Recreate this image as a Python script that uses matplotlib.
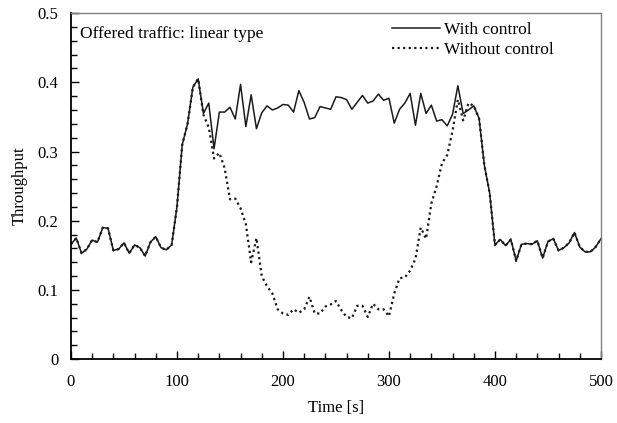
import numpy as np
import matplotlib
matplotlib.use('Agg')
import matplotlib.pyplot as plt
from matplotlib.ticker import MultipleLocator

plt.rcParams['font.family'] = ['Liberation Serif', 'DejaVu Serif']

# time axis, one sample every 5 s
time_s = np.arange(0, 505, 5)

# with control
with_control = [
    0.166, 0.175, 0.153, 0.159, 0.172, 0.169, 0.190, 0.189, 0.157, 0.159,
    0.168, 0.153, 0.165, 0.161, 0.149, 0.169, 0.177, 0.161, 0.158, 0.165,
    0.220, 0.310, 0.340, 0.393, 0.405, 0.355, 0.370, 0.304, 0.357, 0.357,
    0.364, 0.347, 0.397, 0.336, 0.382, 0.333, 0.356, 0.366, 0.360, 0.363,
    0.368, 0.367, 0.357, 0.388, 0.371, 0.347, 0.349, 0.365, 0.363, 0.361,
    0.379, 0.378, 0.375, 0.361, 0.371, 0.381, 0.370, 0.373, 0.383, 0.374,
    0.377, 0.341, 0.361, 0.370, 0.384, 0.338, 0.384, 0.355, 0.367, 0.344,
    0.346, 0.337, 0.354, 0.395, 0.355, 0.360, 0.366, 0.348, 0.280, 0.240,
    0.165, 0.173, 0.164, 0.173, 0.142, 0.166, 0.167, 0.166, 0.171, 0.146,
    0.170, 0.174, 0.157, 0.161, 0.168, 0.183, 0.162, 0.155, 0.155, 0.162,
    0.174,
]

# without control
without_control = [
    0.166, 0.175, 0.153, 0.159, 0.172, 0.169, 0.190, 0.189, 0.157, 0.159,
    0.168, 0.153, 0.165, 0.161, 0.149, 0.169, 0.177, 0.161, 0.158, 0.165,
    0.220, 0.310, 0.340, 0.393, 0.405, 0.353, 0.335, 0.290, 0.298, 0.276,
    0.231, 0.232, 0.218, 0.195, 0.140, 0.175, 0.120, 0.105, 0.095, 0.072,
    0.066, 0.064, 0.072, 0.067, 0.072, 0.090, 0.066, 0.066, 0.076, 0.079,
    0.084, 0.071, 0.061, 0.059, 0.077, 0.077, 0.061, 0.080, 0.072, 0.072,
    0.062, 0.095, 0.117, 0.118, 0.128, 0.145, 0.190, 0.174, 0.225, 0.250,
    0.283, 0.295, 0.330, 0.375, 0.345, 0.370, 0.366, 0.348, 0.280, 0.240,
    0.165, 0.173, 0.164, 0.173, 0.142, 0.166, 0.167, 0.166, 0.171, 0.146,
    0.170, 0.174, 0.157, 0.161, 0.168, 0.183, 0.162, 0.155, 0.155, 0.162,
    0.174,
]

fig = plt.figure(figsize=(6.17, 4.23), dpi=100)
ax = fig.add_axes([0.115, 0.151, 0.859, 0.818])

ax.plot(time_s, with_control, color='#1a1a1a', lw=1.1, label='With control')
ax.plot(time_s, without_control, color='#1a1a1a', lw=1.6, ls=(0, (1, 1.5)),
        label='Without control')

ax.set_xlim(0, 500)
ax.set_ylim(0, 0.5)
ax.xaxis.set_major_locator(MultipleLocator(100))
ax.xaxis.set_minor_locator(MultipleLocator(20))
ax.yaxis.set_minor_locator(MultipleLocator(0.02))
ax.set_yticks([0, 0.1, 0.2, 0.3, 0.4, 0.5])
ax.set_yticklabels(['0', '0.1', '0.2', '0.3', '0.4', '0.5'])

ax.tick_params(which='both', direction='in', top=False, right=False,
               labelsize=12)
ax.tick_params(axis='x', pad=11)
ax.tick_params(axis='y', pad=9)
ax.tick_params(which='major', length=6, width=1)
ax.tick_params(which='minor', length=4, width=1)

for s in ['left', 'bottom']:
    ax.spines[s].set_linewidth(1.3)
    ax.spines[s].set_color('black')
for s in ['top', 'right']:
    ax.spines[s].set_linewidth(1)
    ax.spines[s].set_color('#808080')

ax.set_xlabel('Time [s]', fontsize=12, labelpad=7)
ax.set_ylabel('Throughput', fontsize=12, labelpad=7)

ax.text(0.018, 0.94, 'Offered traffic: linear type', transform=ax.transAxes,
        fontsize=12.5, va='center', ha='left')

ax.legend(loc='upper right', bbox_to_anchor=(0.93, 1.005), frameon=False,
          fontsize=12.5, handlelength=2.8, borderaxespad=0.2, labelspacing=0.2,
          handletextpad=0.2)

plt.savefig('out.png', dpi=100)
